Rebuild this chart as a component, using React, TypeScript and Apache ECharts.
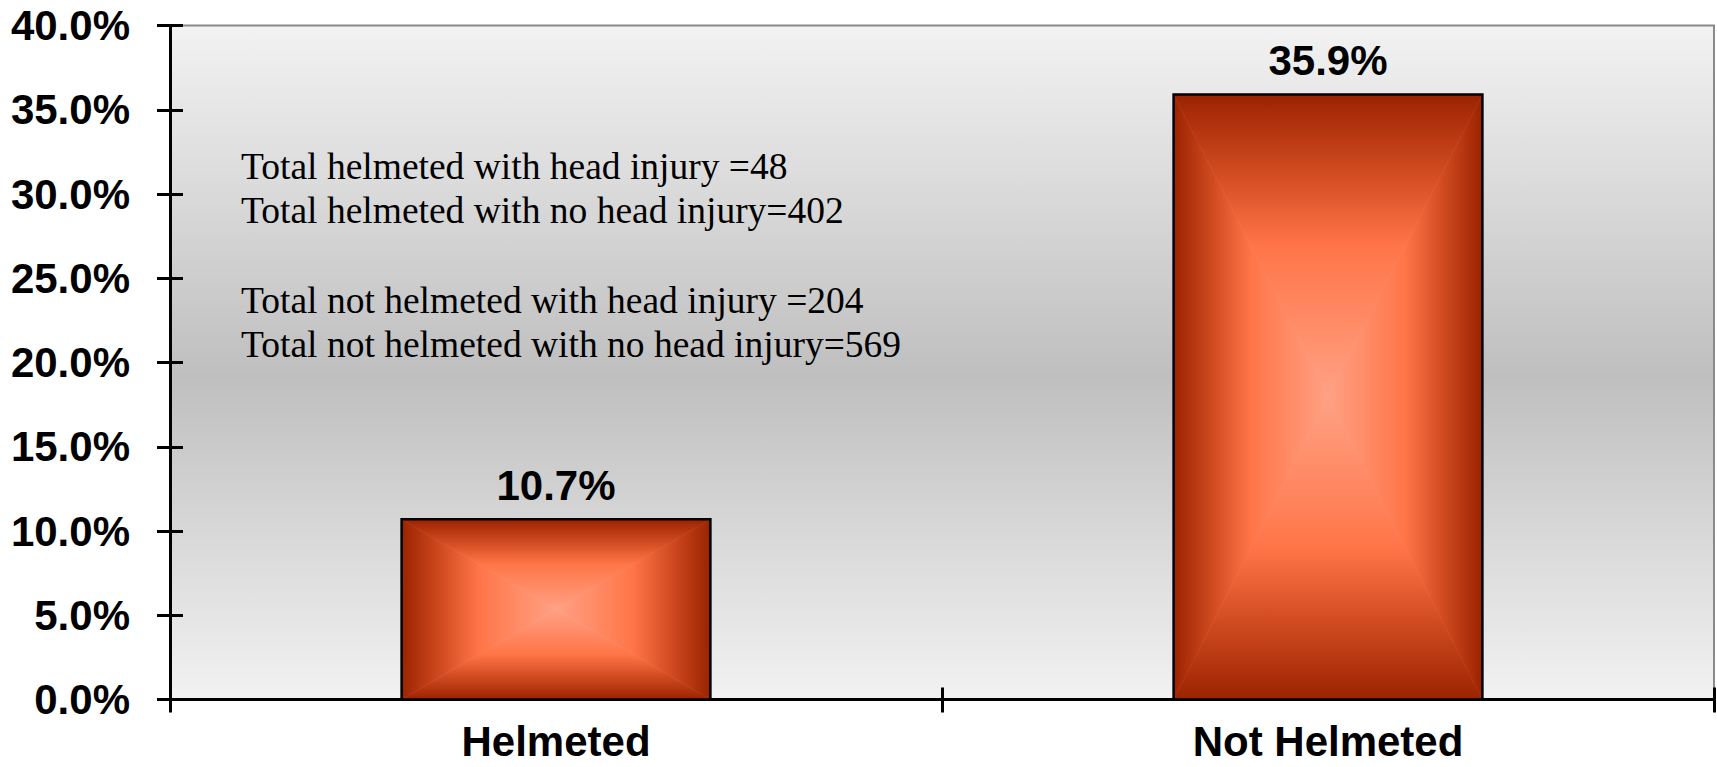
import React, { useEffect, useRef } from "react";
import * as echarts from "echarts";

const categories = ["Helmeted", "Not Helmeted"];
const percentValues = [10.7, 35.9];
const yTickMin = 0;
const yTickMax = 40;
const yTickStep = 5;
const noteLines = [
  "Total helmeted with head injury =48",
  "Total helmeted with no head injury=402",
  "",
  "Total not helmeted with head injury =204",
  "Total not helmeted with no head injury=569",
];

const barStops = [
  { offset: 0, color: "#9b2300" },
  { offset: 0.25, color: "#d04a20" },
  { offset: 0.5, color: "#ff7548" },
  { offset: 1, color: "#ffa184" },
];

const lg = (x: number, y: number, x2: number, y2: number) => ({
  type: "linear",
  x,
  y,
  x2,
  y2,
  colorStops: barStops,
});

export default function App() {
  const ref = useRef<HTMLDivElement>(null);
  useEffect(() => {
    if (!ref.current) return;
    const chart = echarts.init(ref.current, null, { renderer: "svg" });
    const boldFont = '"Liberation Sans", Arial, sans-serif';
    const option: any = {
      animation: false,
      backgroundColor: "#ffffff",
      grid: {
        left: 170,
        right: 3,
        top: 25.5,
        bottom: 67.5,
        containLabel: false,
        outerBoundsMode: "none",
        show: true,
        borderColor: "#8a8a8a",
        borderWidth: 2,
        backgroundColor: {
          type: "linear",
          x: 0,
          y: 0,
          x2: 0,
          y2: 1,
          colorStops: [
            { offset: 0, color: "#f2f2f2" },
            { offset: 0.52, color: "#bfbfbf" },
            { offset: 1, color: "#f2f2f2" },
          ],
        },
      },
      xAxis: [
        {
          type: "category",
          data: categories,
          position: "bottom",
          axisLine: { show: true, lineStyle: { color: "#000", width: 3 } },
          axisTick: { show: true, inside: false, length: 13, lineStyle: { color: "#000", width: 3 } },
          axisLabel: {
            color: "#000",
            fontFamily: boldFont,
            fontWeight: "bold",
            fontSize: 42,
            lineHeight: 42,
            margin: 21,
          },
          splitLine: { show: false },
        },
        {
          type: "category",
          data: categories,
          position: "bottom",
          axisLine: { show: false },
          axisTick: { show: true, inside: true, length: 12, lineStyle: { color: "#000", width: 3 } },
          axisLabel: { show: false },
          splitLine: { show: false },
        },
      ],
      yAxis: [
        {
          type: "value",
          min: yTickMin,
          max: yTickMax,
          interval: yTickStep,
          position: "left",
          axisLine: { show: true, lineStyle: { color: "#000", width: 3 } },
          axisTick: { show: true, inside: false, length: 13, lineStyle: { color: "#000", width: 3 } },
          axisLabel: {
            color: "#000",
            fontFamily: boldFont,
            fontWeight: "bold",
            fontSize: 42,
            margin: 40,
            formatter: (v: number) => v.toFixed(1) + "%",
          },
          splitLine: { show: false },
        },
        {
          type: "value",
          min: yTickMin,
          max: yTickMax,
          interval: yTickStep,
          position: "left",
          offset: 0,
          axisLine: { show: false },
          axisTick: { show: true, inside: true, length: 13, lineStyle: { color: "#000", width: 3 } },
          axisLabel: { show: false },
          splitLine: { show: false },
        },
      ],
      series: [
        {
          type: "custom",
          xAxisIndex: 0,
          yAxisIndex: 0,
          data: percentValues.map((v, i) => [i, v]),
          renderItem: (params: any, api: any) => {
            const cat = api.value(0);
            const v = api.value(1);
            const base = api.coord([cat, 0]);
            const top = api.coord([cat, v]);
            const bw = api.size([1, 0])[0] * 0.4;
            const x0 = base[0] - bw / 2;
            const x1 = base[0] + bw / 2;
            const y0 = top[1];
            const y1 = base[1];
            const cx = base[0];
            const cy = (y0 + y1) / 2;
            const poly = (pts: number[][], fill: any) => ({
              type: "polygon",
              shape: { points: pts },
              style: { fill, stroke: fill, lineWidth: 0.6 },
            });
            return {
              type: "group",
              children: [
                poly([[x0, y0], [x1, y0], [cx, cy]], lg(0, 0, 0, 1)),
                poly([[x0, y1], [x1, y1], [cx, cy]], lg(0, 1, 0, 0)),
                poly([[x0, y0], [x0, y1], [cx, cy]], lg(0, 0, 1, 0)),
                poly([[x1, y0], [x1, y1], [cx, cy]], lg(1, 0, 0, 0)),
                {
                  type: "rect",
                  shape: { x: x0, y: y0, width: bw, height: y1 - y0 },
                  style: { fill: "none", stroke: "#000", lineWidth: 2.5 },
                },
                {
                  type: "text",
                  x: cx,
                  y: y0 - 34,
                  style: {
                    text: v.toFixed(1) + "%",
                    font: 'bold 42px "Liberation Sans", Arial, sans-serif',
                    fill: "#000",
                    align: "center",
                    verticalAlign: "middle",
                    textAlign: "center",
                    textVerticalAlign: "middle",
                  },
                },
              ],
            };
          },
        },
      ],
      graphic: [
        {
          type: "text",
          left: 241,
          top: 144,
          z: 10,
          style: {
            text: noteLines.join("\n"),
            font: '37.5px "Liberation Serif", "Times New Roman", serif',
            lineHeight: 44.6,
            fill: "#000",
          },
        },
      ],
    };
    chart.setOption(option);
    return () => chart.dispose();
  }, []);
  return (
    <div
      ref={ref}
      style={{ position: "fixed", left: 0, top: 0, width: 1717, height: 767 }}
    />
  );
}
